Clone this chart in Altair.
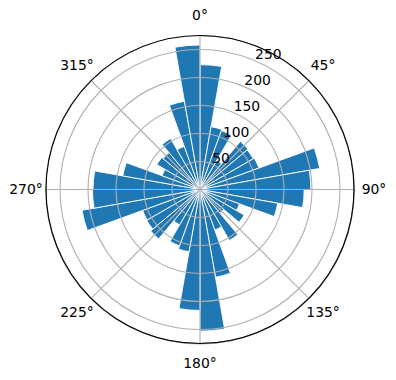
import math
import altair as alt
import pandas as pd

# ---- data (36 direction bins of 10 degrees) ----
bin_start = list(range(0, 360, 10))
bin_width = 10
counts = [223, 114, 112, 60, 112, 110, 112, 217, 198,
          186, 141, 75, 91, 55, 105, 77, 159, 253,
          216, 113, 107, 73, 115, 110, 109, 214, 192,
          191, 140, 72, 89, 86, 105, 82, 160, 258]
r_ticks = [50, 100, 150, 200, 250]
r_tick_labels = ["50", "100", "150", "200", "250"]
angle_ticks = [0, 45, 90, 135, 180, 225, 270, 315]
angle_labels = ["0°", "45°", "90°", "135°", "180°", "225°", "270°", "315°"]
r_max = 275
r_label_angle = 22.5

FONT = "DejaVu Sans"
BLUE = "#1f77b4"
GRID = "#b0b0b0"

bars_df = pd.DataFrame({"start": bin_start, "count": counts})
bars_df["end"] = bars_df["start"] + bin_width

theta_scale = alt.Scale(domain=[0, 360], range=[0, 2 * math.pi])
r_scale = alt.Scale(type="linear", domain=[0, r_max], range=[0, 154], zero=True)

bars = alt.Chart(bars_df).mark_arc(
    color=BLUE, stroke="white", strokeWidth=0.9
).encode(
    theta=alt.Theta("start:Q", scale=theta_scale, stack=False),
    theta2="end:Q",
    radius=alt.Radius("count:Q", scale=r_scale, stack=False),
    radius2=alt.value(0),
)

rings = alt.Chart(pd.DataFrame({"r": r_ticks})).mark_arc(
    fillOpacity=0, stroke=GRID, strokeWidth=1.1, theta=0, theta2=2 * math.pi
).encode(
    radius=alt.Radius("r:Q", scale=r_scale, stack=False),
)

spokes_df = pd.DataFrame({"a": angle_ticks[:4]})
spokes_df["b"] = spokes_df["a"] + 180
spokes_df["r"] = r_max
spokes = alt.Chart(spokes_df).mark_arc(
    fillOpacity=0, stroke=GRID, strokeWidth=1.1
).encode(
    theta=alt.Theta("a:Q", scale=theta_scale, stack=False),
    theta2="b:Q",
    radius=alt.Radius("r:Q", scale=r_scale, stack=False),
)

outer = alt.Chart(pd.DataFrame({"r": [r_max]})).mark_arc(
    fillOpacity=0, stroke="black", strokeWidth=1.1, theta=0, theta2=2 * math.pi
).encode(
    radius=alt.Radius("r:Q", scale=r_scale, stack=False),
)

theta_lab_df = pd.DataFrame({"angle": angle_ticks, "label": angle_labels, "r": r_max})
theta_labels = alt.Chart(theta_lab_df).mark_text(
    font=FONT, fontSize=13.9, color="black", align="center", baseline="middle",
    radiusOffset=20,
).encode(
    theta=alt.Theta("angle:Q", scale=theta_scale, stack=False),
    radius=alt.Radius("r:Q", scale=r_scale, stack=False),
    text="label:N",
)

r_lab_df = pd.DataFrame({"r": r_ticks, "label": r_tick_labels, "angle": r_label_angle})
r_labels = alt.Chart(r_lab_df).mark_text(
    font=FONT, fontSize=13.9, color="black", align="left", baseline="alphabetic",
    dx=1.5, dy=-1,
).encode(
    theta=alt.Theta("angle:Q", scale=theta_scale, stack=False),
    radius=alt.Radius("r:Q", scale=r_scale, stack=False),
    text="label:N",
)

chart = alt.layer(bars, rings, spokes, outer, theta_labels, r_labels).properties(
    width=392, height=379,
    padding={"left": 4, "top": 0, "right": 0, "bottom": 0},
    autosize="none",
).configure_view(strokeWidth=0)

chart.save("out.html", embed_options={"renderer": "svg", "actions": False})
